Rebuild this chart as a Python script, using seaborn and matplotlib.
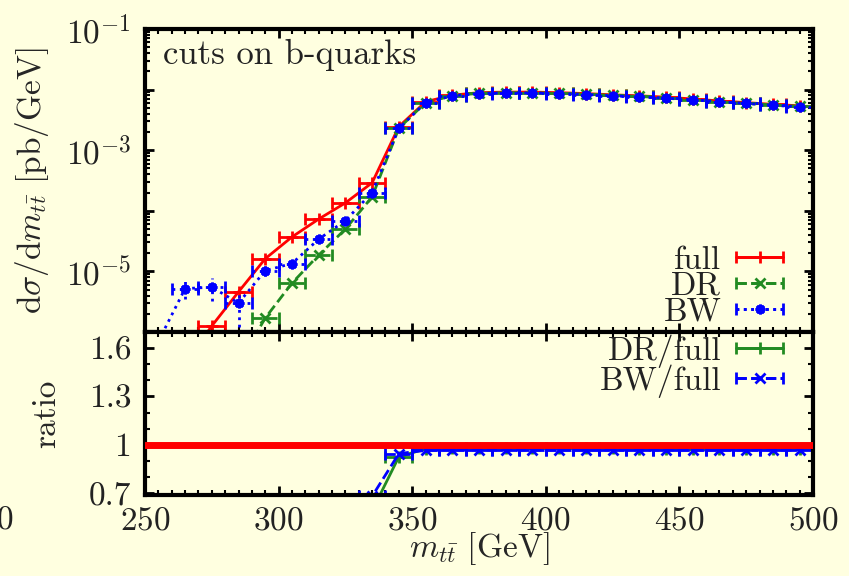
import math

import matplotlib
matplotlib.use("Agg")
import matplotlib.pyplot as plt
import seaborn as sns
from matplotlib.container import ErrorbarContainer
from matplotlib.legend_handler import HandlerErrorbar
from matplotlib.ticker import FuncFormatter, LogLocator, MultipleLocator, NullFormatter

BG = "#FFFFE0"
RED, GREEN, BLUE = "#FF0000", "#228B22", "#0000FF"
BIN_HALF = 5  # half bin width in GeV
FS = 24

# dsigma/dm_tt [pb/GeV], bin centres in GeV
mtt_full = [265, 275, 285, 295, 305, 315, 325, 335, 345, 355, 365, 375, 385,
            395, 405, 415, 425, 435, 445, 455, 465, 475, 485, 495]
xs_full = [3.0e-7, 1.26e-6, 4.6e-6, 1.62e-5, 3.7e-5, 7.3e-5, 1.35e-4, 2.9e-4,
           2.45e-3, 6.3e-3, 8.1e-3, 8.9e-3, 9.1e-3, 9.1e-3, 8.9e-3, 8.6e-3,
           8.2e-3, 7.9e-3, 7.5e-3, 7.0e-3, 6.5e-3, 6.1e-3, 5.7e-3, 5.4e-3]

mtt_dr = [285, 295, 305, 315, 325, 335, 345, 355, 365, 375, 385, 395, 405,
          415, 425, 435, 445, 455, 465, 475, 485, 495]
xs_dr = [2.9e-7, 1.7e-6, 6.4e-6, 1.86e-5, 5.0e-5, 1.7e-4, 2.3e-3, 6.1e-3,
         7.9e-3, 8.7e-3, 8.9e-3, 8.9e-3, 8.7e-3, 8.4e-3, 8.0e-3, 7.7e-3,
         7.3e-3, 6.8e-3, 6.3e-3, 5.9e-3, 5.6e-3, 5.3e-3]

mtt_bw = [255, 265, 275, 285, 295, 305, 315, 325, 335, 345, 355, 365, 375,
          385, 395, 405, 415, 425, 435, 445, 455, 465, 475, 485, 495]
xs_bw = [7.0e-7, 5.2e-6, 5.5e-6, 3.0e-6, 1.03e-5, 1.35e-5, 3.4e-5, 6.9e-5,
         2.0e-4, 2.3e-3, 6.1e-3, 7.9e-3, 8.6e-3, 8.8e-3, 8.8e-3, 8.6e-3,
         8.3e-3, 7.9e-3, 7.6e-3, 7.2e-3, 6.8e-3, 6.3e-3, 5.9e-3, 5.5e-3, 5.2e-3]
bw_err_lo = [0, 1.7e-6, 2.3e-6, 1.8e-6, 2.0e-6, 2.0e-6, 3.0e-6, 5.0e-6, 1.0e-5,
             0, 0, 0, 0, 0, 0, 0, 0, 0, 0, 0, 0, 0, 0, 0, 0]
bw_err_hi = [0, 2.4e-6, 2.3e-6, 1.4e-6, 2.0e-6, 2.0e-6, 3.0e-6, 5.0e-6, 1.0e-5,
             0, 0, 0, 0, 0, 0, 0, 0, 0, 0, 0, 0, 0, 0, 0, 0]

# ratios to the full calculation
mtt_ratio = [325, 335, 345, 355, 365, 375, 385, 395, 405, 415, 425, 435, 445,
             455, 465, 475, 485, 495]
ratio_dr = [0.37, 0.59, 0.925, 0.975, 0.98, 0.98, 0.98, 0.98, 0.98, 0.98, 0.98,
            0.975, 0.975, 0.975, 0.975, 0.975, 0.975, 0.975]
ratio_bw = [0.51, 0.68, 0.945, 0.965, 0.968, 0.967, 0.967, 0.967, 0.967, 0.967,
            0.967, 0.967, 0.967, 0.967, 0.967, 0.967, 0.967, 0.967]
UNITY = 1.0

sns.set_theme(style="ticks")
plt.rcParams.update({
    "font.family": "serif",
    "font.serif": ["cmr10"],
    "mathtext.fontset": "cm",
    "axes.formatter.use_mathtext": True,
    "axes.unicode_minus": False,
    "font.size": FS,
    "axes.labelsize": FS,
    "xtick.labelsize": FS,
    "ytick.labelsize": FS,
    "legend.fontsize": FS,
    "axes.facecolor": BG,
    "figure.facecolor": BG,
    "axes.edgecolor": "black",
    "axes.linewidth": 3,
    "xtick.direction": "in",
    "ytick.direction": "in",
    "xtick.major.size": 6.5,
    "ytick.major.size": 6.5,
    "xtick.minor.size": 3.5,
    "ytick.minor.size": 3.5,
    "xtick.major.width": 2,
    "ytick.major.width": 2,
    "xtick.minor.width": 1.5,
    "ytick.minor.width": 1.5,
    "xtick.color": "black",
    "ytick.color": "black",
    "text.color": "#222222",
    "xtick.labelcolor": "#222222",
    "ytick.labelcolor": "#222222",
})


def draw_series(ax, x, y, color, ls, marker, ms, label, yerr=None):
    sns.lineplot(x=x, y=y, ax=ax, color=color, linestyle=ls, lw=2,
                 marker=marker, markersize=ms, mec=color, mew=2,
                 estimator=None, sort=False)
    line = ax.lines[-1]
    eb = ax.errorbar(x, y, xerr=BIN_HALF, fmt="none", ecolor=color,
                     elinewidth=2, capsize=4.5, capthick=2)
    for coll in eb[2]:
        coll.set_linestyle(ls)
    if yerr is not None:
        ev = ax.errorbar(x, y, yerr=yerr, fmt="none", ecolor=color, elinewidth=2)
        for coll in ev[2]:
            coll.set_linestyle(ls)
    return ErrorbarContainer((line, eb[1], eb[2]), has_xerr=True,
                             has_yerr=False, label=label)


def style_axes(ax):
    ax.set_xlim(250, 500)
    ax.xaxis.set_major_locator(MultipleLocator(50))
    ax.xaxis.set_minor_locator(MultipleLocator(5))
    ax.tick_params(which="both", top=True, right=True)
    ax.tick_params(axis="x", pad=8)
    ax.tick_params(axis="y", pad=10)
    for sp in ax.spines.values():
        sp.set_linewidth(3)
        sp.set_color("black")


def odd_decades(v, pos):
    e = round(math.log10(v))
    return r"$10^{%d}$" % e if e % 2 else ""


def add_legend(ax, handles, loc, anchor):
    ax.legend(handles=handles, loc=loc, bbox_to_anchor=anchor, frameon=False,
              markerfirst=False, handlelength=1.4, handletextpad=0.45,
              labelspacing=-0.1, borderaxespad=0, borderpad=0,
              handler_map={ErrorbarContainer: HandlerErrorbar(xerr_size=0.7)})


fig = plt.figure(figsize=(8.49, 5.76), dpi=100)
W, H = 849, 576
ax_top = fig.add_axes([145 / W, 1 - 332 / H, 668 / W, 303 / H])
ax_bot = fig.add_axes([145 / W, 1 - 495 / H, 668 / W, 163 / H])

# upper panel: differential cross section
ax_top.set_yscale("log")
h_full = draw_series(ax_top, mtt_full, xs_full, RED, "-", "+", 9, "full")
h_dr = draw_series(ax_top, mtt_dr, xs_dr, GREEN, "--", "x", 7, "DR")
h_bw = draw_series(ax_top, mtt_bw, xs_bw, BLUE, ":", (8, 2, 0), 7, "BW",
                   yerr=[bw_err_lo, bw_err_hi])
style_axes(ax_top)
ax_top.set_ylim(1e-6, 1e-1)
ax_top.yaxis.set_major_locator(LogLocator(base=10, numticks=12))
ax_top.yaxis.set_minor_locator(LogLocator(base=10, subs=range(2, 10), numticks=12))
ax_top.yaxis.set_minor_formatter(NullFormatter())
ax_top.yaxis.set_major_formatter(FuncFormatter(odd_decades))
ax_top.tick_params(labelbottom=False)
ax_top.set_xlabel("")
ax_top.set_ylabel(r"$\mathrm{d}\sigma/\mathrm{d}m_{t\bar{t}}\ [\mathrm{pb/GeV}]$")
ax_top.yaxis.set_label_coords(-0.169, 0.5)
ax_top.yaxis.label.set_va("center")
ax_top.text(0.027, 0.8845, "cuts on b-quarks", transform=ax_top.transAxes,
            ha="left", va="baseline", fontsize=25)
add_legend(ax_top, [h_full, h_dr, h_bw], "lower right", (0.955, 0.018))

# lower panel: ratio
h_rdr = draw_series(ax_bot, mtt_ratio, ratio_dr, GREEN, "-", "+", 9, "DR/full")
h_rbw = draw_series(ax_bot, mtt_ratio, ratio_bw, BLUE, "--", "x", 7, "BW/full")
ax_bot.axhline(UNITY, color=RED, lw=5, zorder=5)
style_axes(ax_bot)
ax_bot.set_ylim(0.688, 1.70)
ax_bot.set_yticks([0.7, 1.0, 1.3, 1.6])
ax_bot.set_yticklabels(["0.7", "1", "1.3", "1.6"])
ax_bot.yaxis.set_minor_locator(MultipleLocator(0.1))
ax_bot.set_ylabel("ratio")
ax_bot.yaxis.set_label_coords(-0.148, 0.5)
ax_bot.yaxis.label.set_va("center")
ax_bot.set_xlabel(r"$m_{t\bar{t}}\ [\mathrm{GeV}]$")
ax_bot.xaxis.set_label_coords(0.5, -0.33)
ax_bot.xaxis.label.set_va("center")
add_legend(ax_bot, [h_rdr, h_rbw], "upper right", (0.955, 0.985))

# clipped tick label remnant at the left edge, as in the original
fig.text(5.5 / W, 1 - 530 / H, "0", ha="center", va="baseline", color="#222222")

fig.savefig("out.png", dpi=100, facecolor=BG)
